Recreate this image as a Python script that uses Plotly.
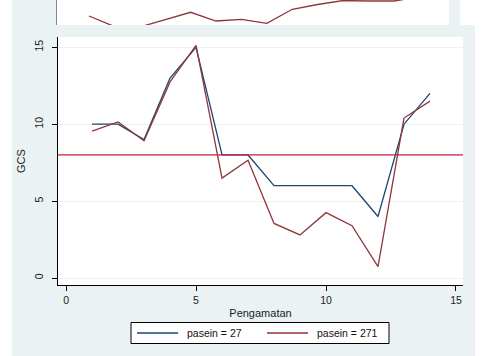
import plotly.graph_objects as go

W, H = 492, 356

# ---- data ----
obs = [1, 2, 3, 4, 5, 6, 7, 8, 9, 10, 11, 12, 13, 14]
gcs_27 = [10, 10, 9, 13, 15, 8, 8, 6, 6, 6, 6, 4, 10, 12]
gcs_271 = [9.55, 10.15, 8.93, 12.75, 15.13, 6.5, 7.66, 3.55, 2.8, 4.25, 3.4, 0.74, 10.4, 11.5]
threshold = 8
series_names = ["pasein = 27", "pasein = 271"]
# partially visible panel at the top (only its lower strip shows)
top_obs = [1, 2, 3, 4, 5, 6, 7, 8, 9, 10, 11, 12, 13, 14]
top_vals = [9, -1.5, -2, 5, 12.7, 4, 5.7, 1.7, 15.7, 20.5, 24.5, 24, 24, 28]
xticks = [0, 5, 10, 15]
yticks = [0, 5, 10, 15]

NAVY = "#1A476F"
MAROON = "#90353B"
HLINE = "#C41E3A"
BG = "#EAF2F3"
FONT = "Liberation Sans, Arial, sans-serif"


def px(x):
    return x / W


def py(y):
    return 1 - y / H


fig = go.Figure()

fig.add_trace(go.Scatter(x=obs, y=gcs_27, mode="lines", name=series_names[0],
                         line=dict(color=NAVY, width=1.3), xaxis="x", yaxis="y"))
fig.add_trace(go.Scatter(x=obs, y=gcs_271, mode="lines", name=series_names[1],
                         line=dict(color=MAROON, width=1.3), xaxis="x", yaxis="y"))
fig.add_trace(go.Scatter(x=top_obs, y=top_vals, mode="lines", showlegend=False,
                         line=dict(color=MAROON, width=1.3), xaxis="x2", yaxis="y2"))

shapes = [
    # top panel background and plot area
    dict(type="rect", xref="paper", yref="paper", x0=px(12), x1=px(460), y0=py(25), y1=py(0),
         fillcolor=BG, line=dict(width=0), layer="below"),
    dict(type="rect", xref="paper", yref="paper", x0=px(57), x1=px(449), y0=py(25), y1=py(0),
         fillcolor="white", line=dict(width=0), layer="below"),
    # main panel background and plot area
    dict(type="rect", xref="paper", yref="paper", x0=px(12), x1=px(475), y0=py(356), y1=py(25),
         fillcolor=BG, line=dict(width=0), layer="below"),
    dict(type="rect", xref="paper", yref="paper", x0=px(58), x1=px(463), y0=py(285), y1=py(37),
         fillcolor="white", line=dict(width=0), layer="below"),
    # reference line
    dict(type="line", xref="x domain", yref="y", x0=0, x1=1, y0=threshold, y1=threshold,
         line=dict(color=HLINE, width=1.2), layer="above"),
    # legend box and keys
    dict(type="rect", xref="paper", yref="paper", x0=px(131), x1=px(389), y0=py(343.5), y1=py(322.5),
         fillcolor="white", line=dict(color="black", width=1), layer="above"),
    dict(type="line", xref="paper", yref="paper", x0=px(137), x1=px(178), y0=py(333), y1=py(333),
         line=dict(color=NAVY, width=1.3), layer="above"),
    dict(type="line", xref="paper", yref="paper", x0=px(267), x1=px(308), y0=py(333), y1=py(333),
         line=dict(color=MAROON, width=1.3), layer="above"),
]

annotations = [
    dict(text=series_names[0], xref="paper", yref="paper", x=px(185), y=py(333),
         xanchor="left", yanchor="middle", showarrow=False,
         font=dict(family=FONT, size=10.5, color="#111")),
    dict(text=series_names[1], xref="paper", yref="paper", x=px(315), y=py(333),
         xanchor="left", yanchor="middle", showarrow=False,
         font=dict(family=FONT, size=10.5, color="#111")),
]

fig.update_layout(
    width=W, height=H,
    margin=dict(l=0, r=0, t=0, b=0),
    paper_bgcolor="white", plot_bgcolor="white",
    font=dict(family=FONT, size=10.5, color="#222"),
    shapes=shapes,
    annotations=annotations,
    showlegend=False,
    xaxis=dict(domain=[px(58), px(463)], range=[-0.31, 15.27], tickvals=xticks,
               showgrid=False, zeroline=False, showline=True, linecolor="black", linewidth=1,
               ticks="outside", ticklen=5, tickcolor="black",
               title=dict(text="Pengamatan", font=dict(size=11, family=FONT), standoff=4),
               anchor="y"),
    yaxis=dict(domain=[py(285), py(37)], range=[-0.455, 15.67], tickvals=yticks,
               showgrid=True, gridcolor=BG, gridwidth=1, zeroline=False,
               showline=True, linecolor="black", linewidth=1,
               ticks="outside", ticklen=5, tickcolor="black", tickangle=-90,
               ticklabelstandoff=5,
               title=dict(text="GCS", font=dict(size=11, family=FONT), standoff=4),
               anchor="x"),
    xaxis2=dict(domain=[px(57), px(449)], range=[-0.26, 15.17], visible=False, anchor="y2"),
    yaxis2=dict(domain=[py(25), py(0)], range=[0, 25], showticklabels=False, ticks="",
                showgrid=False, zeroline=False, showline=True, linecolor="#888", linewidth=1,
                anchor="x2"),
)

fig.write_html("out.html")
